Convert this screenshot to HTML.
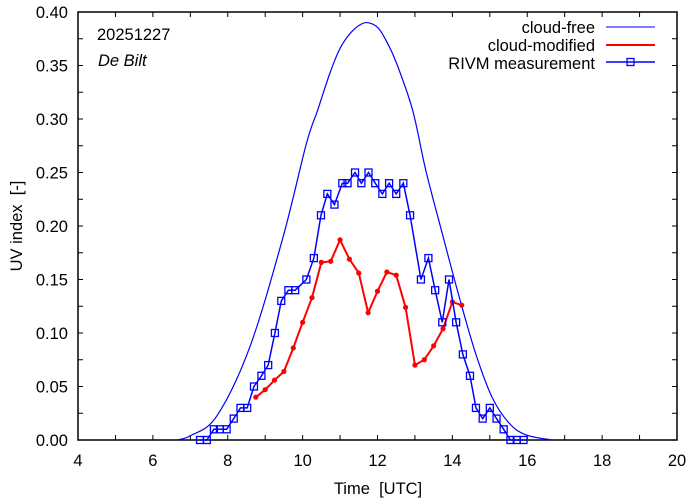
<!DOCTYPE html>
<html><head><meta charset="utf-8"><style>
html,body{margin:0;padding:0;background:#fff}
svg{display:block;font-family:"Liberation Sans",sans-serif}
text{white-space:pre}
</style></head><body>
<svg id="chart" width="694" height="501" viewBox="0 0 694 501">
<g id="grid"></g>
<g id="series"></g>
<text x="97" y="40" font-size="16.5">20251227</text>
<text x="98" y="66" font-size="16.5" font-style="italic">De Bilt</text>
<g>
<text x="595" y="33" font-size="16.5" text-anchor="end">cloud-free</text>
<line x1="606" y1="27" x2="655" y2="27" stroke="#0000ff" stroke-width="1"/>
<text x="595" y="51" font-size="16.5" text-anchor="end">cloud-modified</text>
<line x1="606" y1="45" x2="655" y2="45" stroke="#ff0000" stroke-width="2"/>
<text x="595" y="69" font-size="16.5" text-anchor="end">RIVM measurement</text>
<line x1="606" y1="62" x2="655" y2="62" stroke="#0000ff" stroke-width="1.5"/>
<rect x="627" y="58.5" width="7" height="7" fill="none" stroke="#0000ff" stroke-width="1.3"/>
</g>
<text transform="translate(22,226) rotate(-90)" font-size="16.5" text-anchor="middle">UV index  [-]</text>
<text x="378" y="494" font-size="16.5" text-anchor="middle">Time  [UTC]</text>
</svg>
<script>
const xTicks = [4,6,8,10,12,14,16,18,20];
const yTicks = [0,0.05,0.10,0.15,0.20,0.25,0.30,0.35,0.40];
const clearTimes = [6.64,7.0,7.70,8.59,9.48,10.10,10.40,10.73,11.00,11.27,11.53,11.75,12.02,12.25,12.51,12.94,13.29,13.73,14.18,14.62,15.06,15.51,15.95,16.65];
const clearValues = [0,0.004,0.022,0.087,0.190,0.277,0.308,0.343,0.366,0.380,0.388,0.390,0.385,0.372,0.352,0.308,0.252,0.193,0.134,0.081,0.040,0.016,0.005,0];
const modTimes = [8.75,9.0,9.25,9.5,9.75,10.0,10.25,10.5,10.75,11.0,11.25,11.5,11.75,12.0,12.25,12.5,12.75,13.0,13.25,13.5,13.75,14.0,14.25];
const modValues = [0.040,0.047,0.056,0.064,0.086,0.110,0.133,0.166,0.167,0.187,0.169,0.156,0.119,0.139,0.157,0.154,0.124,0.070,0.075,0.088,0.104,0.129,0.126];
const rivmTimes = [7.26,7.44,7.63,7.79,7.97,8.16,8.34,8.52,8.70,8.90,9.08,9.26,9.43,9.62,9.80,10.10,10.30,10.49,10.66,10.85,11.06,11.20,11.40,11.57,11.76,11.94,12.13,12.31,12.50,12.69,12.87,13.16,13.36,13.54,13.73,13.91,14.10,14.28,14.47,14.63,14.81,15.00,15.18,15.37,15.55,15.72,15.90];
const rivmValues = [0,0,0.01,0.01,0.01,0.02,0.03,0.03,0.05,0.06,0.07,0.10,0.13,0.14,0.14,0.15,0.17,0.21,0.23,0.22,0.24,0.24,0.25,0.24,0.25,0.24,0.23,0.24,0.23,0.24,0.21,0.15,0.17,0.14,0.11,0.15,0.11,0.08,0.06,0.03,0.02,0.03,0.02,0.01,0,0,0];

const L=78,R=677,T=12,B=440;
const X=t=>L+(t-4)/16*(R-L);
const Y=v=>B-v/0.4*(B-T);
const NS="http://www.w3.org/2000/svg";
function mk(tag,attrs,parent){const e=document.createElementNS(NS,tag);for(const k in attrs)e.setAttribute(k,attrs[k]);parent.appendChild(e);return e;}
const g=document.getElementById('grid'), s=document.getElementById('series');

const frame=mk('rect',{x:L,y:T,width:R-L,height:B-T,fill:'none',stroke:'#000','stroke-width':1.5},g);


for(let h=4;h<=20;h++){
  const x=X(h);
  const t1=mk('line',{x1:x,y1:B,x2:x,y2:B-5,stroke:'#000'},g);
  
  
  const t2=mk('line',{x1:x,y1:T,x2:x,y2:T+5,stroke:'#000'},g);
  
  
}
xTicks.forEach(h=>{
  const tx=mk('text',{x:X(h),y:466,'font-size':16.5,'text-anchor':'middle'},g);
  tx.textContent=h;
  
  
});
for(let i=0;i<=16;i++){
  const y=Y(i*0.025);
  const t1=mk('line',{x1:L,y1:y,x2:L+5,y2:y,stroke:'#000'},g);
  
  
  const t2=mk('line',{x1:R,y1:y,x2:R-5,y2:y,stroke:'#000'},g);
  
  
}
yTicks.forEach(v=>{
  const tx=mk('text',{x:68,y:Y(v)+6,'font-size':16.5,'text-anchor':'end'},g);
  tx.textContent=v.toFixed(2);
  
  
});

const pts=clearTimes.map((t,i)=>[X(t),Y(clearValues[i])]);
let d='M'+pts[0][0]+','+pts[0][1];
for(let i=0;i<pts.length-1;i++){
  const p0=pts[Math.max(0,i-1)],p1=pts[i],p2=pts[i+1],p3=pts[Math.min(pts.length-1,i+2)];
  const c1=[p1[0]+(p2[0]-p0[0])/6,p1[1]+(p2[1]-p0[1])/6];
  const c2=[p2[0]-(p3[0]-p1[0])/6,p2[1]-(p3[1]-p1[1])/6];
  d+=' C'+c1+' '+c2+' '+p2;
}
const cf=mk('path',{d:d,fill:'none',stroke:'#0000ff','stroke-width':1.2},s);



const cm=mk('polyline',{points:modTimes.map((t,i)=>X(t)+','+Y(modValues[i])).join(' '),fill:'none',stroke:'#ff0000','stroke-width':2},s);


modTimes.forEach((t,i)=>{
  const c=mk('circle',{cx:X(t),cy:Y(modValues[i]),r:2.6,fill:'#ff0000'},s);
  
  
});

const rm=mk('polyline',{points:rivmTimes.map((t,i)=>X(t)+','+Y(rivmValues[i])).join(' '),fill:'none',stroke:'#0000ff','stroke-width':1.5},s);


rivmTimes.forEach((t,i)=>{
  const r=mk('rect',{x:X(t)-3.5,y:Y(rivmValues[i])-3.5,width:7,height:7,fill:'none',stroke:'#0000ff','stroke-width':1.3},s);
  
  
});
</script>
</body></html>
